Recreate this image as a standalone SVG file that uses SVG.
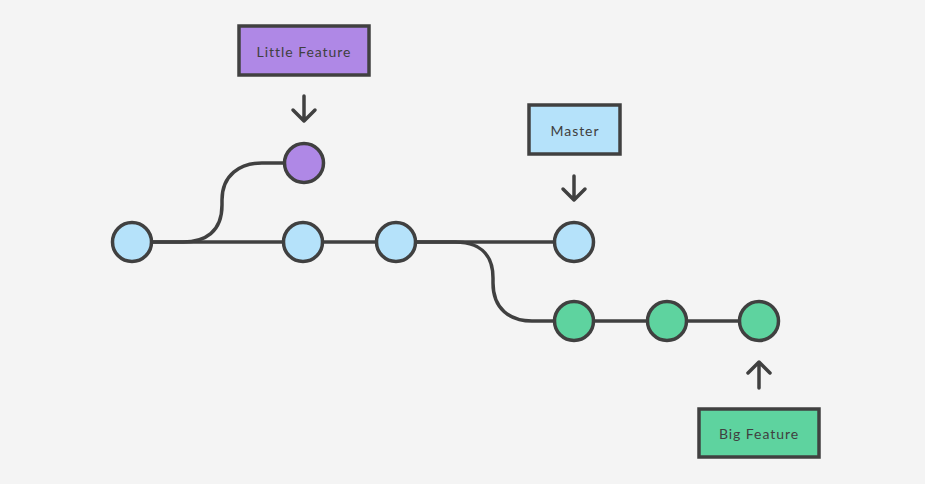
<svg xmlns="http://www.w3.org/2000/svg" width="925" height="484" viewBox="0 0 925 484">
<style>
.bg{fill:#f4f4f4}
.ln{fill:none;stroke:#404040;stroke-width:3.5}
.arr{fill:none;stroke:#404040;stroke-width:3.5;stroke-linecap:round;stroke-linejoin:round}
.nd{stroke:#404040;stroke-width:3.5}
.blue{fill:#b5e2fa}
.purple{fill:#af88e6}
.green{fill:#5ed39f}
.box{stroke:#404040;stroke-width:3.5}
.lbl{font-family:Lato,"Liberation Sans",sans-serif;font-size:14px;fill:#404040;text-anchor:middle;letter-spacing:0.95px}
</style>
<rect class="bg" x="0" y="0" width="925" height="484"/>
<g id="connectors">
<path class="ln" d="M131,242 H574"/>
<path class="ln" d="M153,242 H183 C205,242 222,232 222,205 V200 C222,175 240,163 262,163 H304"/>
<path class="ln" d="M417,242 H455 C477,242 493,252 493,278 V283 C493,309 510,321 532,321 H759"/>
<path class="arr" d="M304,96 V121 M293,110 L304,121 L315,110"/>
<path class="arr" d="M574,176 V200 M563,189 L574,200 L585,189"/>
<path class="arr" d="M759,388 V362 M748,373 L759,362 L770,373"/>
</g>
<g id="c1"><circle class="nd blue" cx="132" cy="242" r="19.5"/></g>
<g id="c2"><circle class="nd blue" cx="303" cy="242" r="19.5"/></g>
<g id="c3"><circle class="nd blue" cx="396" cy="242" r="19.5"/></g>
<g id="c4"><circle class="nd blue" cx="574" cy="242" r="19.5"/></g>
<g id="lf1"><circle class="nd purple" cx="304" cy="163" r="19.5"/></g>
<g id="bf1"><circle class="nd green" cx="574" cy="321" r="19.5"/></g>
<g id="bf2"><circle class="nd green" cx="667" cy="321" r="19.5"/></g>
<g id="bf3"><circle class="nd green" cx="759" cy="321" r="19.5"/></g>
<g id="little-feature"><rect class="box purple" x="239" y="26" width="130" height="49"/><text class="lbl" x="304" y="57">Little Feature</text></g>
<g id="master"><rect class="box blue" x="529" y="105" width="91" height="49"/><text class="lbl" x="575" y="136">Master</text></g>
<g id="big-feature"><rect class="box green" x="699" y="409" width="120" height="48"/><text class="lbl" x="759" y="439">Big Feature</text></g>
</svg>
